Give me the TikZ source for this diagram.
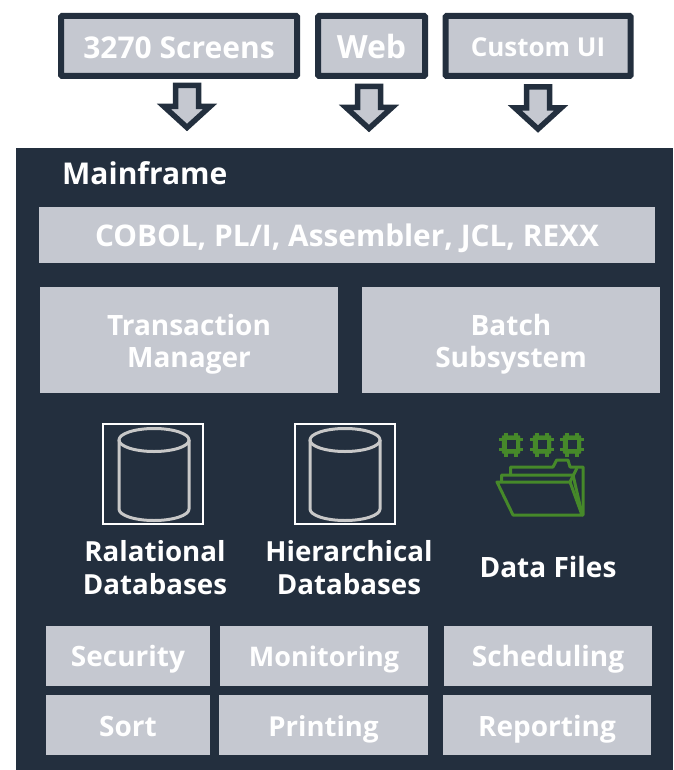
\documentclass[tikz,border=0pt]{standalone}
\usepackage{fontspec}
\setmainfont{Open Sans}
\definecolor{panelcol}{HTML}{232F3E}
\definecolor{boxcol}{HTML}{C5C8D0}
\definecolor{iconcol}{HTML}{46892A}
\definecolor{drumcol}{HTML}{C8C8C8}
\tikzset{
    boxtext/.style={font=\fontsize{#1}{32.5}\selectfont\bfseries, text=white, align=center, inner sep=0pt, text height=22pt, text depth=0pt},
    twolines/.style={text height=55.4pt, text depth=0pt},
    greybox/.style={fill=boxcol, minimum width=#1, inner sep=0pt},
    topbox/.style={draw=panelcol, line width=6pt, fill=boxcol, inner sep=0pt, rounded corners=1pt},
    blockarrow/.style={draw=panelcol, line width=5.5pt, fill=boxcol, miter limit=10},
    drumline/.style={draw=drumcol, line width=3pt},
    iconline/.style={draw=iconcol, line width=3pt, line join=round},
}
\begin{document}
\begin{tikzpicture}[x=1pt, y=-1pt]
    \useasboundingbox (0,0) rectangle (673,770);

    % Panel behind everything
    \node[fill=panelcol, minimum width=657pt, minimum height=622pt, inner sep=0pt] (mainframe) at (344.5,459) {};
    \node[boxtext=30, anchor=base west] (mainframetitle) at (62,184) {Mainframe};

    % Boxes on top with the block arrows below
    \node[topbox, minimum width=236pt, minimum height=60pt, boxtext=30, text height=25pt] (screens) at (179,46) {3270 Screens};
    \node[topbox, minimum width=107pt, minimum height=60pt, boxtext=32, text height=25pt] (web) at (371.5,46) {Web};
    \node[topbox, minimum width=185pt, minimum height=60pt, boxtext=26] (custom) at (538,46) {Custom UI};

    \foreach \name/\x/\y in {screens/187/85.5, web/369/86.5, custom/538/87} {
        \coordinate (\name arrow) at (\x,\y);
        \draw[blockarrow] (\name arrow) ++(-11.5,0) -- ++(23,0) -- ++(0,21) -- ++(11.5,0) -- ++(-23,21) -- ++(-23,-21) -- ++(11.5,0) -- cycle;
    }

    % Grey boxes inside the panel
    \node[greybox=616pt, minimum height=56pt, boxtext=29.8, text height=24pt] (languages) at (347,234.5) {COBOL, PL/I, Assembler, JCL, REXX};
    \node[greybox=298pt, minimum height=106pt, boxtext=28, twolines] (transaction) at (189,340) {Transaction\\Manager};
    \node[greybox=298pt, minimum height=106pt, boxtext=28, twolines] (batch) at (511,340) {Batch\\Subsystem};

    \foreach \name/\x/\y/\w/\size/\txt in {security/128/655.5/164/28/Security, monitoring/324/655.5/208/27/Monitoring, scheduling/548/655.5/208/28/Scheduling, sort/128/725/164/28/Sort, printing/323.5/725/209/27.5/Printing, reporting/547/725/208/28/Reporting} {
        \node[greybox=\w pt, minimum height=60pt, boxtext=\size] (\name) at (\x,\y) {\txt};
    }

    % Database drums
    \foreach \name/\x/\cx in {relational/153/154, hierarchical/345/345} {
        \node[draw=white, line width=1.8pt, minimum size=100pt, inner sep=0pt] (\name) at (\x,474) {};
        \draw[drumline] (\cx,440) ellipse (35pt and 11.5pt);
        \draw[drumline] (\cx-35,440) -- (\cx-35,509) arc[start angle=180, end angle=360, x radius=35, y radius=-11.5] -- (\cx+35,440);
    }

    \node[boxtext=27.7, text height=52pt] (relationallabel) at (155,568) {Ralational\\Databases};
    \node[boxtext=27.7, text height=52pt] (hierarchicallabel) at (349,568) {Hierarchical\\Databases};
    \node[boxtext=28, text height=19pt] (fileslabel) at (548,568) {Data Files};

    % Chips and folder
    \foreach \name/\x in {chipa/511, chipb/542, chipc/572} {
        \node[draw=iconcol, fill=iconcol, minimum size=18pt, inner sep=0pt, rounded corners=1pt] (\name) at (\x,444.5) {};
        \foreach \d in {-5,5} {
            \draw[iconline, line width=3.5pt] (\x+\d,432.5) -- (\x+\d,456.5);
            \draw[iconline, line width=3.5pt] (\x-12,444.5+\d) -- (\x+12,444.5+\d);
        }
        \node[fill=panelcol, minimum size=9pt, inner sep=0pt] (\name hole) at (\x,444.5) {};
    }
    \draw[iconline] (497,482) -- (570,482) -- (582,515) -- (513,515) -- cycle;
    \draw[iconline] (501.7,481) -- (501.7,475) -- (573,475) -- (582,514);
    \draw[iconline] (510.7,474) -- (510.7,467) -- (553,467) -- (556.7,460) -- (568,460) -- (570,467) -- (583,467) -- (583,515) -- (582,515);
    \draw[iconline] (570,482) -- (577,468);
\end{tikzpicture}
\end{document}
